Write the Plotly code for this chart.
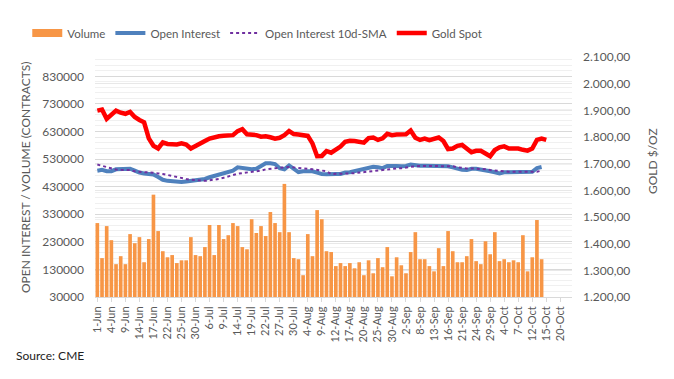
import plotly.graph_objects as go

# Trading-day categories (1-Jun to 22-Oct)
dates = [
    "1-Jun", "2-Jun", "3-Jun", "4-Jun", "7-Jun", "8-Jun", "9-Jun", "10-Jun", "11-Jun", "14-Jun",
    "15-Jun", "16-Jun", "17-Jun", "18-Jun", "21-Jun", "22-Jun", "23-Jun", "24-Jun", "25-Jun", "28-Jun",
    "29-Jun", "30-Jun",
    "1-Jul", "2-Jul", "6-Jul", "7-Jul", "8-Jul", "9-Jul", "12-Jul", "13-Jul", "14-Jul", "15-Jul",
    "16-Jul", "19-Jul", "20-Jul", "21-Jul", "22-Jul", "23-Jul", "26-Jul", "27-Jul", "28-Jul", "29-Jul",
    "30-Jul",
    "2-Aug", "3-Aug", "4-Aug", "5-Aug", "6-Aug", "9-Aug", "10-Aug", "11-Aug", "12-Aug", "13-Aug",
    "16-Aug", "17-Aug", "18-Aug", "19-Aug", "20-Aug", "23-Aug", "24-Aug", "25-Aug", "26-Aug", "27-Aug",
    "30-Aug", "31-Aug",
    "1-Sep", "2-Sep", "3-Sep", "7-Sep", "8-Sep", "9-Sep", "10-Sep", "13-Sep", "14-Sep", "15-Sep",
    "16-Sep", "17-Sep", "20-Sep", "21-Sep", "22-Sep", "23-Sep", "24-Sep", "27-Sep", "28-Sep", "29-Sep",
    "30-Sep",
    "1-Oct", "4-Oct", "5-Oct", "6-Oct", "7-Oct", "8-Oct", "11-Oct", "12-Oct", "13-Oct", "14-Oct",
    "15-Oct", "18-Oct", "19-Oct", "20-Oct", "21-Oct", "22-Oct",
]

volume = [
    298000, 171000, 287000, 236000, 149000, 178000, 149000, 258000, 225000, 247000,
    156000, 240000, 401000, 269000, 196000, 174000, 182000, 153000, 163000, 163000,
    247000, 182000, 178000, 211000, 291000,
    182000, 291000, 240000, 254000, 298000, 287000, 211000, 203000, 312000, 262000,
    287000, 251000, 338000, 298000, 265000, 440000, 265000, 171000, 167000, 109000,
    258000, 178000, 345000, 312000, 196000,
    193000, 142000, 153000, 142000, 153000, 134000, 156000, 109000, 163000, 116000,
    171000, 138000, 211000, 105000, 174000, 145000, 116000, 193000, 265000, 167000,
    167000, 142000, 123000, 207000, 142000,
    269000, 196000, 156000, 156000, 178000, 240000, 160000, 149000, 232000, 185000,
    265000, 160000, 167000, 156000, 163000, 156000, 254000, 123000, 174000, 309000,
    167000,
]

open_interest = [
    488000, 491000, 486000, 486000, 493000, 493000, 493000, 495000, 488000, 481000,
    478000, 477000, 474000, 465000, 455000, 451000, 450000, 447000, 447000, 449000,
    451000, 453000, 455000, 458000, 464000,
    469000, 474000, 476000, 481000, 488000, 500000, 497000, 493000, 493000, 495000,
    507000, 515000, 515000, 512000, 497000, 493000, 507000, 493000, 483000, 486000,
    487000, 486000, 481000, 476000, 475000,
    477000, 476000, 476000, 481000, 482000, 486000, 490000, 495000, 501000, 502000,
    500000, 497000, 505000, 506000, 505000, 504000, 505000, 510000, 507000, 506000,
    506000, 506000, 506000, 506000, 505000,
    504000, 500000, 495000, 491000, 490000, 495000, 495000, 493000, 488000, 486000,
    482000, 478000, 482000, 482000, 483000, 483000, 483000, 483000, 484000, 497000,
    501000,
]

oi_sma = [
    510000, 506000, 502000, 497000, 492000, 491000, 490000, 490000, 486000, 483000,
    482000, 482000, 481000, 478000, 476000, 472000, 469000, 465000, 462000, 458000,
    455000, 453000, 451000, 451000, 453000,
    455000, 458000, 462000, 466000, 472000, 477000, 479000, 481000, 482000, 484000,
    488000, 493000, 495000, 497000, 500000, 500000, 501000, 500000, 497000, 496000,
    495000, 493000, 490000, 488000, 486000,
    476000, 476000, 477000, 478000, 478000, 479000, 481000, 483000, 486000, 488000,
    488000, 490000, 493000, 495000, 496000, 497000, 500000, 502000, 504000, 505000,
    505000, 505000, 505000, 505000, 505000,
    505000, 504000, 500000, 497000, 496000, 496000, 495000, 495000, 493000, 490000,
    488000, 487000, 486000, 484000, 484000, 484000, 484000, 484000, 484000, 484000,
    488000,
]

gold_spot = [
    1899, 1903, 1868, 1886, 1899, 1891, 1887, 1894, 1875, 1864,
    1855, 1795, 1767, 1757, 1780, 1774, 1772, 1772, 1776, 1772,
    1757, 1765, 1774, 1785, 1794,
    1800, 1803, 1805, 1805, 1807, 1822, 1829, 1810, 1809, 1807,
    1801, 1803, 1799, 1794, 1797, 1807, 1822, 1811, 1809, 1807,
    1804, 1776, 1728, 1729, 1747,
    1741, 1751, 1764, 1782, 1786, 1785, 1782, 1779, 1796, 1798,
    1789, 1795, 1812, 1807, 1809, 1810, 1810, 1824, 1797, 1789,
    1794, 1788, 1795, 1798, 1785,
    1755, 1757, 1767, 1770, 1757, 1743, 1748, 1748, 1738, 1728,
    1751, 1761, 1765, 1757, 1757, 1757, 1752, 1749, 1757, 1789,
    1794, 1789,
]

tick_labels = dates[::3]

FONT = "Lato"
GREY = "#595959"
ORANGE = "#F79646"

fig = go.Figure()
fig.add_trace(go.Bar(
    x=dates[:len(volume)], y=volume, name="Volume", showlegend=False,
    legendgroup="vol",
    marker=dict(color=ORANGE, line=dict(width=0)),
))
# legend entry for Volume drawn as a wide block (like the reference)
fig.add_trace(go.Scatter(
    x=[None], y=[None], name="Volume", mode="lines", legendgroup="vol",
    line=dict(color=ORANGE, width=8),
))
fig.add_trace(go.Scatter(
    x=dates[:len(open_interest)], y=open_interest, name="Open Interest", mode="lines",
    line=dict(color="#4F81BD", width=4),
))
fig.add_trace(go.Scatter(
    x=dates[:len(oi_sma)], y=oi_sma, name="Open Interest 10d-SMA", mode="lines",
    line=dict(color="#7030A0", width=2, dash="dot"),
))
fig.add_trace(go.Scatter(
    x=dates[:len(gold_spot)], y=gold_spot, name="Gold Spot", mode="lines",
    line=dict(color="#FF0000", width=4.5), yaxis="y2",
))

fig.update_layout(
    width=674, height=379,
    margin=dict(l=95, r=102, t=57, b=82),
    paper_bgcolor="white", plot_bgcolor="white",
    separators=",.",
    font=dict(family=FONT, size=11, color=GREY),
    bargap=0.22,
    showlegend=True,
    legend=dict(
        orientation="h", x=-0.142, xanchor="left", y=1.10, yanchor="middle",
        font=dict(family=FONT, size=11.5, color=GREY),
        itemwidth=30, traceorder="normal",
    ),
    xaxis=dict(
        type="category", categoryorder="array", categoryarray=dates,
        range=[-0.5, len(dates) - 0.5],
        tickmode="array", tickvals=tick_labels, ticktext=tick_labels,
        tickangle=-90, tickfont=dict(family=FONT, size=11, color=GREY),
        showgrid=False, showline=True, linecolor="#d9d9d9", linewidth=1,
        ticks="outside", ticklen=4, tickcolor="#d9d9d9",
    ),
    yaxis=dict(
        range=[30000, 900000], tick0=30000, dtick=100000, tickformat="d",
        tickfont=dict(family=FONT, size=12, color=GREY),
        showgrid=True, gridcolor="#d9d9d9", gridwidth=1,
        minor=dict(dtick=20000, tick0=30000, showgrid=True, gridcolor="#f0f0f0", gridwidth=1),
        zeroline=False, showline=False, ticks="", ticklabelstandoff=10,
    ),
    yaxis2=dict(
        overlaying="y", side="right",
        range=[1200, 2100], tick0=1200, dtick=100, tickformat=",.2f",
        tickfont=dict(family=FONT, size=12, color=GREY),
        showgrid=True, gridcolor="#e8e8e8", zeroline=False, showline=False,
        ticks="", ticklabelstandoff=10,
    ),
    annotations=[
        dict(text="OPEN INTEREST / VOLUME (CONTRACTS)", textangle=-90,
             xref="paper", yref="paper", x=(25 - 95) / 477, y=(297 - 177) / 240,
             xanchor="center", yanchor="middle", showarrow=False,
             font=dict(family=FONT, size=12, color=GREY)),
        dict(text="GOLD $/OZ", textangle=-90,
             xref="paper", yref="paper", x=(652 - 95) / 477, y=(297 - 161) / 240,
             xanchor="center", yanchor="middle", showarrow=False,
             font=dict(family=FONT, size=12, color=GREY)),
        dict(text="Source: CME", xref="paper", yref="paper",
             x=(14 - 95) / 477, y=(297 - 355) / 240,
             xanchor="left", yanchor="middle", showarrow=False,
             font=dict(family=FONT, size=12, color="#222222")),
    ],
)

fig.write_html("out.html", config={"displayModeBar": False},
               post_script="document.body.style.margin='0px';")
